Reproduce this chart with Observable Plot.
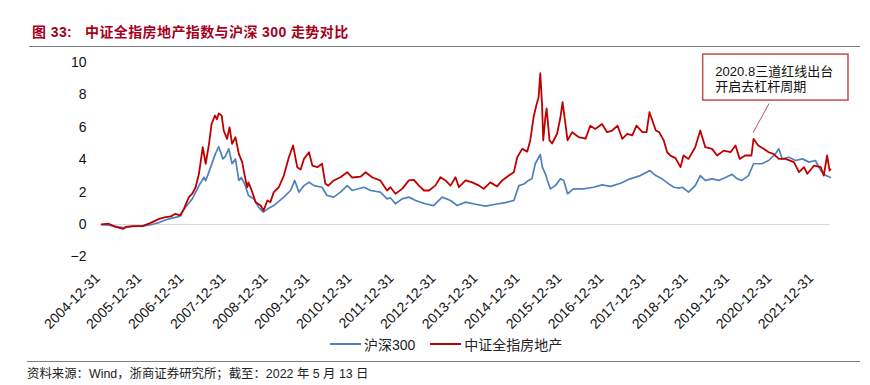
<!DOCTYPE html>
<html><head><meta charset="utf-8">
<script src="https://cdn.jsdelivr.net/npm/d3@7"></script>
<script src="https://cdn.jsdelivr.net/npm/@observablehq/plot@0.6"></script>
<style>
body{margin:0;background:#fff;}
#wrap{position:relative;width:870px;height:385px;overflow:hidden;font-family:"Liberation Sans",Arial,"Noto Sans CJK SC",sans-serif;color:#000;}
#title{position:absolute;left:32px;top:21px;font-size:14px;font-weight:bold;color:#a8001c;white-space:nowrap;letter-spacing:0.4px;font-family:"Liberation Sans","Noto Sans CJK SC",sans-serif;}
.hr{position:absolute;left:29px;width:831px;height:0;border-top:1.5px solid #7f7f7f;}
#chart{position:absolute;left:0;top:0;}
#legend{position:absolute;top:334px;left:330px;font-size:14px;white-space:nowrap;display:flex;align-items:center;color:#222;}
#legend .sw{display:inline-block;width:31px;height:0;border-top:2px solid;margin-right:3px;}
#legend .it{display:flex;align-items:center;margin-right:15px;}
#source{position:absolute;left:27px;top:364px;font-size:12.4px;white-space:nowrap;color:#222;}
</style></head>
<body><div id="wrap">
<div id="title">图&nbsp;33:&nbsp;&nbsp;&nbsp;中证全指房地产指数与沪深 300 走势对比</div>
<div class="hr" style="top:46px"></div>
<div id="chart"></div>
<div id="legend"></div>
<div class="hr" style="top:361px;left:27px;width:833px"></div>
<div id="source">资料来源：Wind，浙商证券研究所；截至：2022 年 5 月 13 日</div>
</div>
<script>
// ---- data (decimal year, cumulative return) ----
const seriesNames = ["沪深300", "中证全指房地产"];
const seriesColors = ["#4f81bd", "#c00000"];

const hs300Years = [2005.0,2005.2,2005.4,2005.55,2005.75,2006.0,2006.2,2006.4,2006.6,2006.84,2007.0,2007.16,2007.32,2007.44,2007.48,2007.6,2007.71,2007.79,2007.89,2007.95,2008.03,2008.11,2008.19,2008.27,2008.33,2008.41,2008.5,2008.63,2008.74,2008.85,2008.95,2009.1,2009.34,2009.5,2009.6,2009.7,2009.82,2009.94,2010.06,2010.25,2010.37,2010.53,2010.69,2010.85,2010.97,2011.25,2011.41,2011.64,2011.8,2011.88,2012.0,2012.16,2012.32,2012.48,2012.71,2012.91,2013.11,2013.31,2013.47,2013.67,2013.91,2014.14,2014.38,2014.62,2014.82,2014.94,2015.06,2015.17,2015.25,2015.33,2015.45,2015.5,2015.57,2015.62,2015.69,2015.81,2015.93,2016.01,2016.1,2016.24,2016.48,2016.72,2016.92,2017.12,2017.36,2017.59,2017.83,2018.06,2018.2,2018.35,2018.51,2018.63,2018.77,2018.83,2018.98,2019.14,2019.26,2019.38,2019.54,2019.7,2019.86,2020.02,2020.14,2020.25,2020.41,2020.53,2020.73,2020.89,2021.05,2021.13,2021.21,2021.37,2021.53,2021.69,2021.85,2022.0,2022.13,2022.25,2022.36];
const hs300Values = [0,-0.05,-0.15,-0.2,-0.12,-0.08,0.0,0.15,0.35,0.49,1.07,1.58,2.4,2.92,2.7,3.54,4.36,4.8,4.05,4.2,4.67,3.75,4.05,2.72,2.9,2.5,1.79,1.58,1.07,0.76,0.95,1.17,1.69,2.1,2.72,2.0,2.4,2.61,2.4,2.3,1.79,1.69,2.0,2.4,2.1,2.3,2.1,2.0,1.58,1.65,1.28,1.58,1.69,1.48,1.28,1.17,1.69,1.48,1.17,1.38,1.25,1.13,1.25,1.35,1.48,2.4,2.5,2.72,2.82,3.75,4.32,3.54,3.13,2.72,2.2,2.4,2.82,2.72,1.9,2.2,2.2,2.3,2.45,2.35,2.55,2.82,3.02,3.33,3.02,2.82,2.51,2.3,2.25,2.3,2.0,2.4,3.02,2.72,2.82,2.72,2.9,3.1,2.82,2.72,3.02,3.75,3.75,3.95,4.36,4.67,4.05,4.15,3.95,4.05,3.85,3.95,3.33,3.02,2.9];

const reYears = [2005.0,2005.17,2005.33,2005.52,2005.57,2005.73,2005.97,2006.17,2006.37,2006.52,2006.65,2006.76,2006.88,2006.96,2007.08,2007.16,2007.24,2007.32,2007.41,2007.48,2007.56,2007.62,2007.7,2007.75,2007.79,2007.86,2007.91,2007.99,2008.05,2008.11,2008.19,2008.27,2008.35,2008.41,2008.47,2008.5,2008.59,2008.67,2008.79,2008.86,2008.95,2009.02,2009.1,2009.22,2009.34,2009.46,2009.56,2009.66,2009.74,2009.82,2009.94,2010.02,2010.14,2010.25,2010.33,2010.4,2010.53,2010.69,2010.85,2010.97,2011.17,2011.29,2011.45,2011.64,2011.8,2011.88,2012.0,2012.16,2012.32,2012.44,2012.56,2012.68,2012.8,2012.95,2013.07,2013.19,2013.31,2013.43,2013.51,2013.67,2013.83,2013.99,2014.1,2014.26,2014.42,2014.54,2014.7,2014.82,2014.9,2015.02,2015.14,2015.21,2015.29,2015.35,2015.41,2015.45,2015.49,2015.52,2015.57,2015.6,2015.67,2015.73,2015.85,2015.93,2015.98,2016.05,2016.1,2016.21,2016.37,2016.53,2016.64,2016.76,2016.92,2017.04,2017.16,2017.29,2017.4,2017.52,2017.64,2017.74,2017.88,2017.98,2018.05,2018.12,2018.2,2018.28,2018.39,2018.47,2018.55,2018.67,2018.79,2018.86,2018.98,2019.14,2019.26,2019.38,2019.54,2019.66,2019.82,2019.98,2020.1,2020.2,2020.33,2020.48,2020.53,2020.64,2020.77,2020.89,2021.0,2021.13,2021.29,2021.49,2021.61,2021.73,2021.81,2021.97,2022.13,2022.2,2022.28,2022.34,2022.36];
const reValues = [0,0.05,-0.15,-0.27,-0.15,-0.1,-0.1,0.1,0.35,0.45,0.5,0.66,0.55,0.97,1.69,1.9,2.3,3.13,4.77,3.75,4.98,6.2,6.73,6.5,6.85,6.73,5.8,5.29,6.0,4.98,5.39,4.36,3.85,3.02,2.3,2.6,2.0,1.38,1.17,0.86,1.48,1.38,2.0,2.3,3.02,4.15,4.88,3.54,3.4,4.05,4.46,3.64,3.54,3.75,2.51,2.4,2.72,2.92,3.23,2.9,2.95,3.23,2.9,2.72,2.1,2.3,1.9,2.2,2.72,2.75,2.4,2.1,2.1,2.4,2.92,2.72,2.4,2.92,2.3,2.72,2.6,2.4,2.2,2.6,2.35,2.72,3.02,3.23,4.15,4.67,4.5,5.19,6.62,7.3,7.86,9.34,7.5,5.19,6.62,7.16,5.19,5.0,5.6,6.62,7.55,6.2,5.19,5.7,5.39,5.3,6.1,5.9,6.2,5.7,5.8,6.1,5.29,5.6,5.5,6.1,5.7,5.7,6.93,6.4,5.8,5.7,5.19,4.46,4.25,4.1,3.54,4.26,4.05,4.77,5.8,4.77,4.67,4.26,4.56,4.46,4.88,4.05,4.26,4.26,5.29,4.88,4.67,4.46,4.36,4.05,4.05,3.85,3.23,3.54,3.13,3.64,3.54,3.02,4.26,3.33,3.4];

const xTickLabels = ["2004-12-31","2005-12-31","2006-12-31","2007-12-31","2008-12-31","2009-12-31","2010-12-31","2011-12-31","2012-12-31","2013-12-31","2014-12-31","2015-12-31","2016-12-31","2017-12-31","2018-12-31","2019-12-31","2020-12-31","2021-12-31"];
const yTicks = [-2,0,2,4,6,8,10];
const xStart = "2004-12-31", xEnd = "2022-05-13";

// annotation (data units: decimal year, value)
const noteText = "2020.8三道红线出台\n开启去杠杆周期";
const noteBox = {x1: 2019.33, x2: 2022.79, y1: 7.65, y2: 10.49};
const noteTextPos = {x: 2019.62, y: 9.02};
const noteLink = {x1: 2020.52, y1: 5.68, x2: 2020.9, y2: 7.47};

// ---- build ----
const toDate = t => { const y = Math.floor(t); return new Date(Date.UTC(y,0,1) + (t - y) * 365.25 * 864e5); };
const hs300 = hs300Years.map((t,i) => ({date: toDate(t), value: hs300Values[i]}));
const re = reYears.map((t,i) => ({date: toDate(t), value: reValues[i]}));
const tickDates = xTickLabels.map(s => new Date(s));

const chart = Plot.plot({
  width: 870, height: 300,
  marginLeft: 101, marginRight: 40, marginTop: 62, marginBottom: 43.6,
  style: {fontFamily: '"Liberation Sans", Arial, sans-serif', fontSize: "14px", color: "#111", background: "transparent", overflow: "visible"},
  x: {type: "utc", domain: [new Date(xStart), new Date(xEnd)], axis: null},
  y: {domain: [-2, 10], axis: null},
  marks: [
    Plot.ruleY([0], {stroke: "#d9d9d9", strokeWidth: 1.2}),
    Plot.axisY({ticks: yTicks, tickSize: 0, tickPadding: 15, label: null, fontSize: 14}),
    Plot.axisX({ticks: tickDates, tickFormat: d3.utcFormat("%Y-%m-%d"), tickRotate: -45, tickSize: 0, tickPadding: 19, dx: -4, label: null, fontSize: 14, anchor: "bottom"}),
    Plot.line(hs300, {x: "date", y: "value", stroke: seriesColors[0], strokeWidth: 1.7}),
    Plot.line(re, {x: "date", y: "value", stroke: seriesColors[1], strokeWidth: 1.8}),
    Plot.link([noteLink], {x1: d => toDate(d.x1), y1: "y1", x2: d => toDate(d.x2), y2: "y2", stroke: "#c0504d", strokeWidth: 1}),
    Plot.rect([noteBox], {x1: d => toDate(d.x1), x2: d => toDate(d.x2), y1: "y1", y2: "y2", fill: "white", stroke: "#c0504d", strokeWidth: 1.5, clip: false}),
    Plot.text([noteTextPos], {x: d => toDate(d.x), y: "y", text: () => noteText, textAnchor: "start", lineAnchor: "middle", lineHeight: 1.2, fontSize: 13, fill: "#111", fontFamily: '"Liberation Sans","Noto Sans CJK SC",sans-serif'})
  ]
});
document.getElementById("chart").appendChild(chart);

const legend = document.getElementById("legend");
seriesNames.forEach((n,i) => {
  const it = document.createElement("span");
  it.className = "it";
  it.innerHTML = `<span class="sw" style="border-color:${seriesColors[i]}"></span><span>${n}</span>`;
  legend.appendChild(it);
});
</script>
</body></html>
